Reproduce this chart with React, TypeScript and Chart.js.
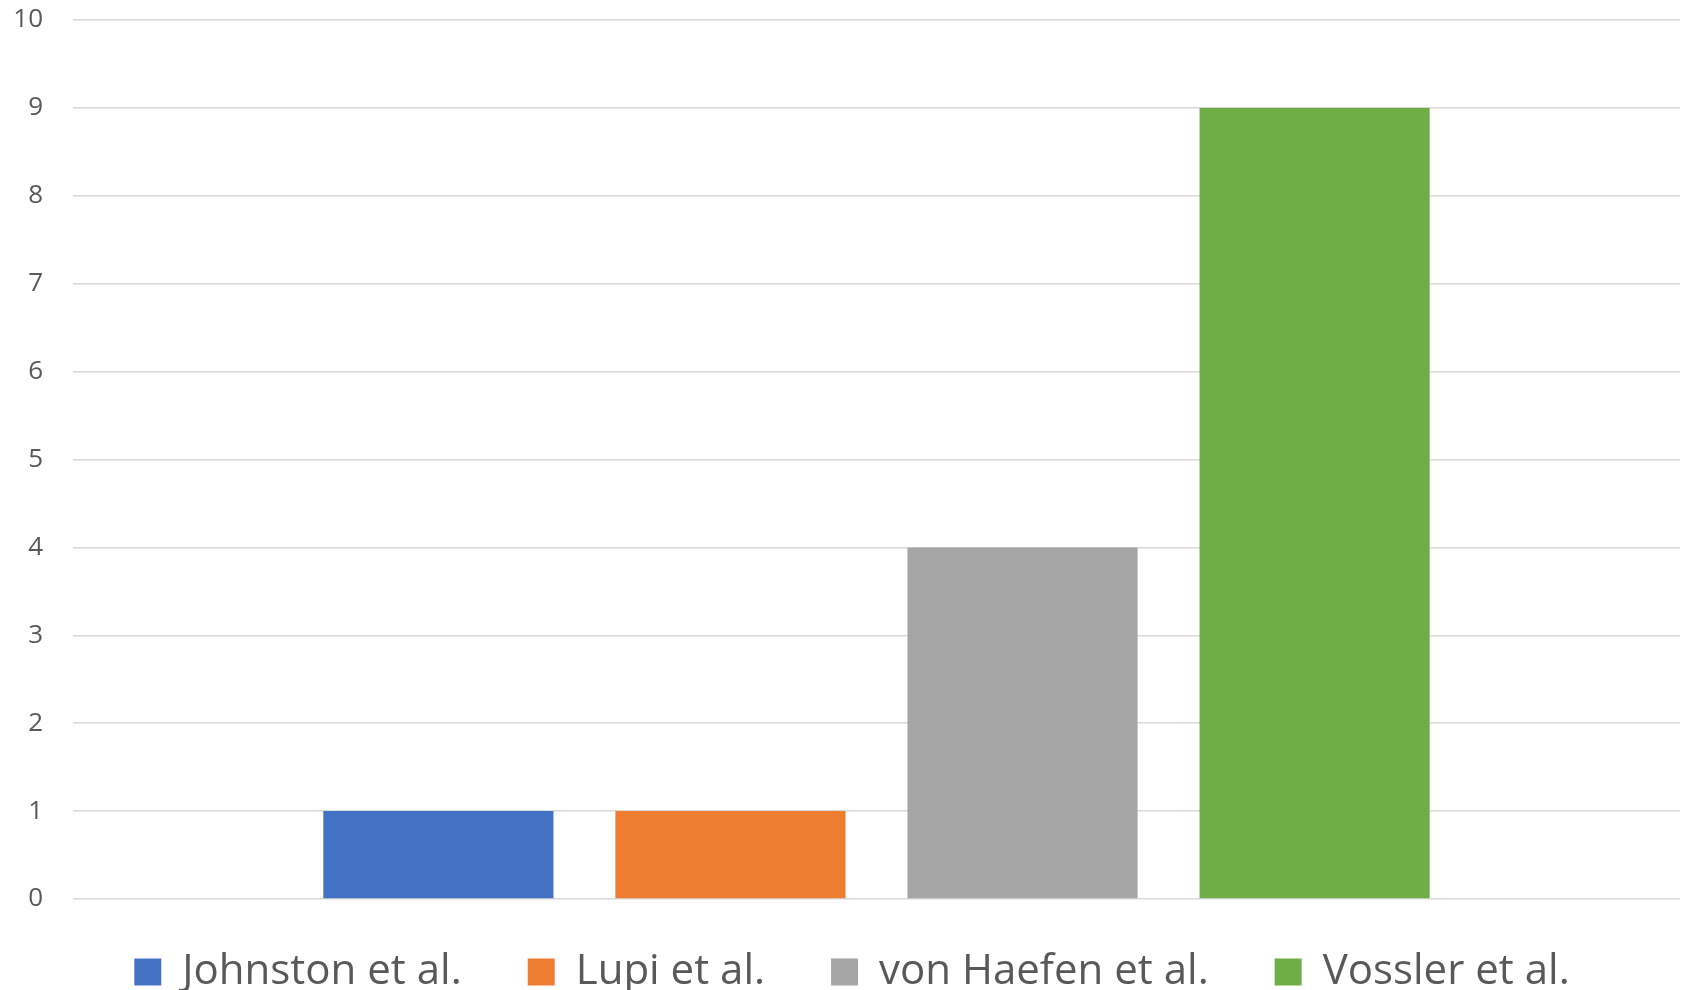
import React, { useEffect, useRef } from "react";
import { Chart, registerables } from "chart.js";

Chart.register(...registerables);

const categories: string[] = [""];
const seriesNames: string[] = ["Johnston et al.", "Lupi et al.", "von Haefen et al.", "Vossler et al."];
const johnstonValues: number[] = [1];
const lupiValues: number[] = [1];
const vonHaefenValues: number[] = [4];
const vosslerValues: number[] = [9];
const seriesColors: string[] = ["#4472C4", "#ED7D31", "#A5A5A5", "#70AD47"];
const yTicks: number[] = [0, 1, 2, 3, 4, 5, 6, 7, 8, 9, 10];

const LEGEND_HEIGHT = 91;
const LEGEND_SHIFT_Y = -14;
const LEGEND_SHIFT_X = 12;

const legendShift = {
  id: "legendShift",
  afterLayout(chart: any) {
    const lg = chart.legend;
    if (!lg) return;
    lg.top += LEGEND_SHIFT_Y;
    lg.height -= LEGEND_SHIFT_Y;
    lg.bottom = 990;
    lg.left += LEGEND_SHIFT_X;
    lg.right += LEGEND_SHIFT_X;
  },
};

export default function App() {
  const ref = useRef<HTMLCanvasElement | null>(null);

  useEffect(() => {
    if (!ref.current) return;
    const values = [johnstonValues, lupiValues, vonHaefenValues, vosslerValues];
    const chart = new Chart(ref.current, {
      type: "bar",
      data: {
        labels: categories,
        datasets: seriesNames.map((name, i) => ({
          label: name,
          data: values[i],
          backgroundColor: seriesColors[i],
          borderWidth: 0,
          categoryPercentage: 0.727,
          barPercentage: 0.788,
        })),
      },
      plugins: [legendShift],
      options: {
        responsive: false,
        animation: false,
        maintainAspectRatio: false,
        layout: { padding: { top: 20, right: 10, bottom: 0, left: 0 } },
        plugins: {
          tooltip: { enabled: false },
          legend: {
            display: true,
            position: "bottom",
            labels: {
              boxWidth: 27,
              boxHeight: 27,
              padding: 66,
              color: "#595959",
              font: { family: "'Open Sans', Lato, sans-serif", size: 42 },
            },
          },
        },
        scales: {
          x: {
            grid: { display: false },
            border: { display: false },
            ticks: { display: false },
            afterFit: (scale: any) => {
              scale.height = 0;
            },
          },
          y: {
            min: 0,
            max: 10,
            afterBuildTicks: (scale: any) => {
              scale.ticks = yTicks.map((v) => ({ value: v }));
            },
            afterFit: (scale: any) => {
              scale.width = 73;
              scale.paddingTop = 0;
              scale.paddingBottom = 0;
            },
            grid: { color: "#D9D9D9", lineWidth: 1.5, drawTicks: false },
            border: { display: false },
            ticks: {
              padding: 30,
              color: "#595959",
              font: { family: "'Open Sans', Lato, sans-serif", size: 26 },
            },
          },
        },
      },
    });
    const lg: any = (chart as any).legend;
    if (lg) {
      const origFit = lg.fit.bind(lg);
      lg.fit = function () {
        origFit();
        this.height = LEGEND_HEIGHT;
      };
      chart.update();
    }
    return () => chart.destroy();
  }, []);

  return (
    <div style={{ position: "fixed", left: 0, top: 0, width: 1690, height: 990, background: "#fff" }}>
      <canvas ref={ref} width={1690} height={990} style={{ width: 1690, height: 990, display: "block" }} />
    </div>
  );
}
